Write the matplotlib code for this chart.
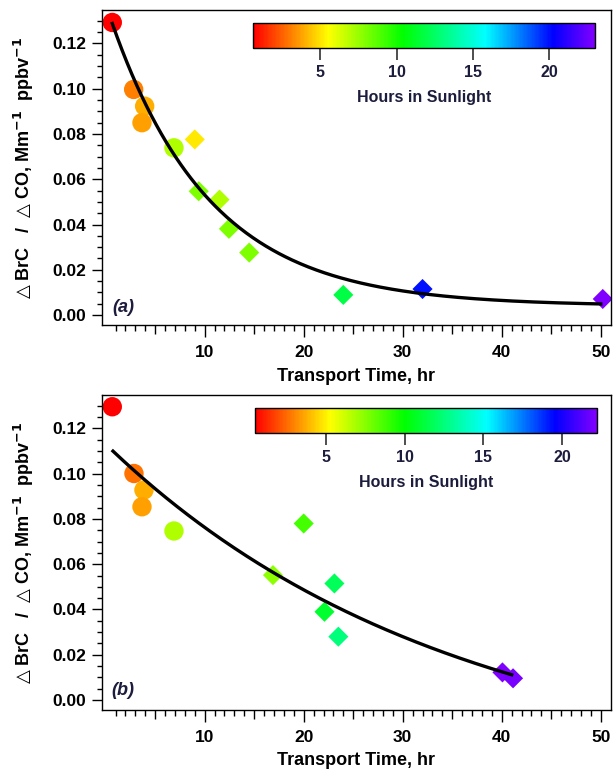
import numpy as np
import matplotlib
matplotlib.use('Agg')
import matplotlib.pyplot as plt
from matplotlib.colors import LinearSegmentedColormap
from matplotlib.ticker import MultipleLocator, FixedLocator, FuncFormatter

plt.rcParams['font.family'] = ['Liberation Sans', 'DejaVu Sans']
plt.rcParams['font.weight'] = 'bold'
plt.rcParams['mathtext.fontset'] = 'dejavusans'

# ---- panel (a) data ----
time_a_circ = [0.67, 2.83, 3.94, 3.67, 6.9]
ratio_a_circ = [0.1293, 0.0997, 0.0923, 0.0850, 0.0739]
hours_a_circ = [0.6, 3.1, 4.0, 3.7, 7.0]
time_a_diam = [9.0, 9.4, 11.5, 12.45, 14.5, 24.0, 32.0, 50.2]
ratio_a_diam = [0.0776, 0.0547, 0.0510, 0.0381, 0.0276, 0.0089, 0.0115, 0.0071]
hours_a_diam = [5.1, 8.0, 7.0, 8.0, 8.0, 11.8, 20.0, 23.0]
fit_a = [0.004, 0.1335, 0.1]      # y0, A, k  ->  y0 + A*exp(-k*t)
fit_a_span = [0.67, 50.0]
hours_a_range = [0.6, 23.0]

# ---- panel (b) data ----
time_b_circ = [0.67, 2.86, 3.87, 3.67, 6.9]
ratio_b_circ = [0.1296, 0.1001, 0.0928, 0.0854, 0.0747]
hours_b_circ = [0.5, 2.7, 3.8, 3.5, 6.7]
time_b_diam = [20.0, 16.9, 23.1, 22.1, 23.5, 40.07, 41.14]
ratio_b_diam = [0.0780, 0.0552, 0.0515, 0.0390, 0.0280, 0.0122, 0.0096]
hours_b_diam = [8.8, 7.4, 11.8, 11.0, 12.5, 22.2, 22.0]
fit_b = [-0.034, 0.1471, 0.0288]
fit_b_span = [0.74, 41.0]
hours_b_range = [0.5, 22.2]

cbar_ticks = [5, 10, 15, 20]
x_major = [5, 10, 15, 20, 25, 30, 35, 40, 45, 50]
x_minor = list(range(1, 51))

# Igor-like rainbow, red -> purple
rainbow = LinearSegmentedColormap.from_list('igor_rainbow', [
    (0.0, '#ff0000'), (0.219, '#ffff00'), (0.4375, '#00ff00'),
    (0.679, '#00ffff'), (0.879, '#0000ff'), (1.0, '#8000ff')])

navy = '#1c1c3c'

fig = plt.figure(figsize=(6.14, 7.76), dpi=100)


def make_panel(rect, cax_rect, tc, rc, hc, td, rd, hd, fit, span, hrange, tag, tag_y):
    ax = fig.add_axes(rect)
    sc = ax.scatter(tc, rc, c=hc, cmap=rainbow, vmin=hrange[0], vmax=hrange[1],
                    marker='o', s=195, linewidths=0, zorder=2)
    ax.scatter(td, rd, c=hd, cmap=rainbow, vmin=hrange[0], vmax=hrange[1],
               marker='D', s=105, linewidths=0, zorder=2)
    t = np.linspace(span[0], span[1], 300)
    ax.plot(t, fit[0] + fit[1] * np.exp(-fit[2] * t), color='black', lw=2.4, zorder=3)

    ax.set_xlim(-0.4, 51.0)
    ax.set_ylim(-0.0044, 0.1348)
    ax.xaxis.set_major_locator(FixedLocator(x_major))
    ax.xaxis.set_minor_locator(FixedLocator(x_minor))
    ax.xaxis.set_major_formatter(FuncFormatter(
        lambda v, p: '%d' % v if int(round(v)) % 10 == 0 else ''))
    ax.yaxis.set_major_locator(MultipleLocator(0.02))
    ax.yaxis.set_minor_locator(MultipleLocator(0.005))
    ax.yaxis.set_major_formatter(FuncFormatter(lambda v, p: '%.2f' % v))
    ax.tick_params(axis='x', which='major', length=8.5, width=1.0, labelsize=12.5, pad=6)
    ax.tick_params(axis='x', which='minor', length=4.5, width=1.0)
    ax.tick_params(axis='y', which='major', length=7, width=1.0, labelsize=12.5, pad=4)
    ax.tick_params(axis='y', which='minor', length=3.5, width=1.0)
    for s in ax.spines.values():
        s.set_linewidth(1.0)
    fig.canvas.draw()
    for tk in ax.xaxis.get_major_ticks():
        if int(round(tk.get_loc())) % 10 != 0:
            tk.tick1line.set_markersize(6.5)
    for lab in ax.get_xticklabels() + ax.get_yticklabels():
        lab.set_fontweight('bold')

    ax.set_xlabel('Transport Time, hr', fontsize=13, fontweight='bold')
    ax.xaxis.set_label_coords(0.5, -0.135)
    ax.set_ylabel(r'$\bigtriangleup$ BrC   /  $\bigtriangleup$ CO, Mm$^{\mathbf{-1}}$  ppbv$^{\mathbf{-1}}$',
                  fontsize=13, fontweight='bold')
    ax.yaxis.set_label_coords(-0.13, 0.5)
    ax.text(0.042, tag_y, tag, transform=ax.transAxes, fontsize=13, style='italic',
            fontweight='bold', color=navy, ha='center', va='center')

    cax = fig.add_axes(cax_rect)
    cb = fig.colorbar(sc, cax=cax, orientation='horizontal')
    cb.set_ticks(cbar_ticks)
    cb.ax.tick_params(length=8.5, width=1.3, color='#404040', labelsize=11.5,
                      labelcolor=navy, pad=4)
    for lab in cb.ax.get_xticklabels():
        lab.set_fontweight('bold')
    cb.outline.set_linewidth(1.0)
    cb.set_label('Hours in Sunlight', fontsize=11.5, color=navy, labelpad=7,
                 fontweight='bold')
    return ax


make_panel([0.1656, 0.5812, 0.829, 0.4059], [0.4125, 0.9385, 0.5565, 0.0314],
           time_a_circ, ratio_a_circ, hours_a_circ, time_a_diam, ratio_a_diam, hours_a_diam,
           fit_a, fit_a_span, hours_a_range, '(a)', 0.057)
make_panel([0.1656, 0.0851, 0.829, 0.4059], [0.4153, 0.4424, 0.5565, 0.0314],
           time_b_circ, ratio_b_circ, hours_b_circ, time_b_diam, ratio_b_diam, hours_b_diam,
           fit_b, fit_b_span, hours_b_range, '(b)', 0.063)

fig.savefig('out.png', dpi=100)
